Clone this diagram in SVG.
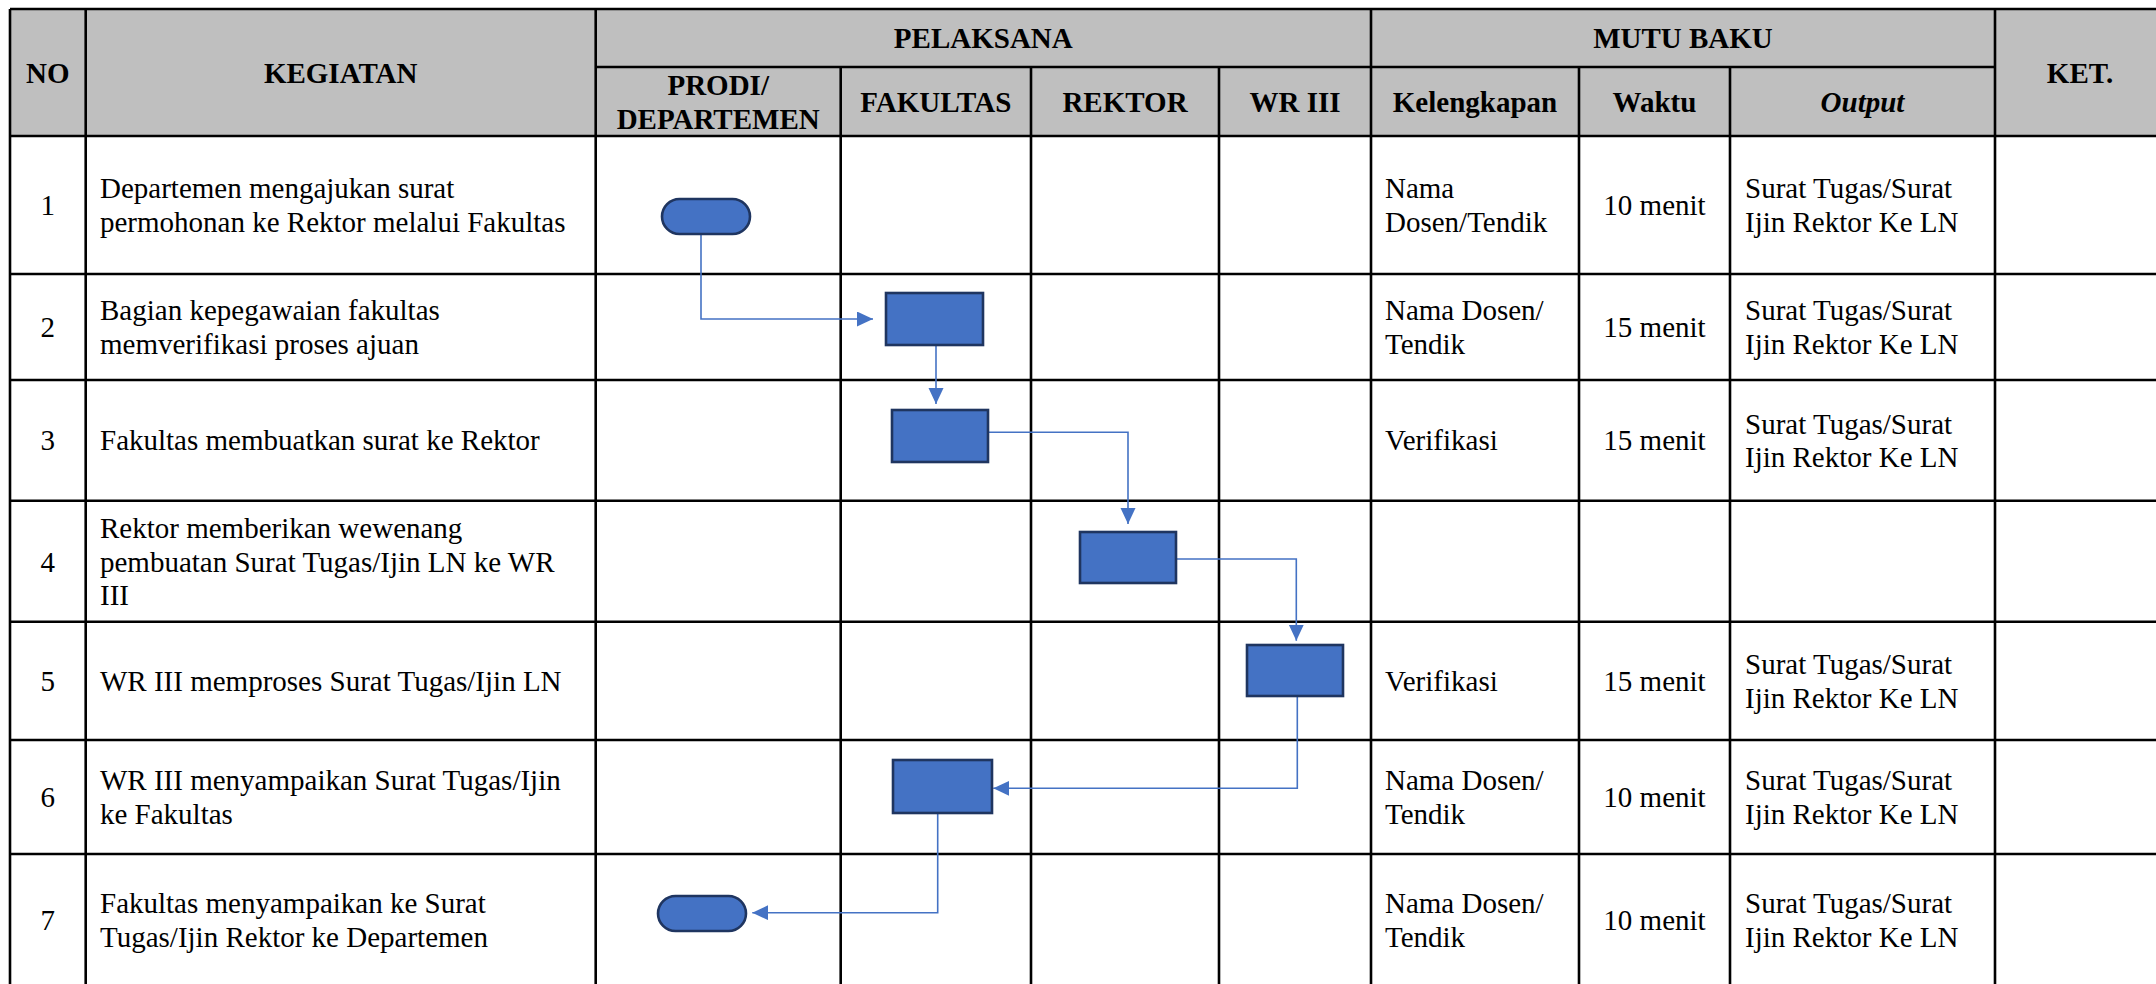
<svg xmlns="http://www.w3.org/2000/svg" width="2156" height="984" viewBox="0 0 2156 984">
<style>
.grid{stroke:#000;stroke-width:2.6;fill:none}
.hdr{fill:#BFBFBF}
text{font-family:"Liberation Serif","Times New Roman",serif;font-size:29px;fill:#000}
.h{font-weight:bold;text-anchor:middle}
.c{text-anchor:middle}
.it{font-style:italic}
.node{fill:#4472C4;stroke:#1F3560;stroke-width:2.6}
.conn{fill:none;stroke:#4472C4;stroke-width:1.6}
</style>
<defs>
<marker id="arr" markerUnits="userSpaceOnUse" markerWidth="17" markerHeight="16" refX="16" refY="7.5" orient="auto">
<path d="M0,0 L16,7.5 L0,15 Z" fill="#4472C4"/>
</marker>
</defs>
<rect width="2156" height="984" fill="#fff"/>
<g id="table">
<rect class="hdr" x="10" y="9" width="2160" height="127"/>
<g class="grid">
<path d="M10,9 H2170 M595.7,67 H1995 M10,136 H2170 M10,274 H2170 M10,380 H2170 M10,500.7 H2170 M10,621.7 H2170 M10,740 H2170 M10,854 H2170 M10,986 H2170"/>
<path d="M10,9 V990 M85.7,9 V990 M595.7,9 V990 M1371,9 V990 M1995,9 V990 M840.7,67 V990 M1031,67 V990 M1219,67 V990 M1579,67 V990 M1730,67 V990"/>
</g>
<g id="header">
<text class="h" x="47.8" y="83">NO</text>
<text class="h" x="340.7" y="83">KEGIATAN</text>
<text class="h" x="983.3" y="48">PELAKSANA</text>
<text class="h" x="1683" y="48">MUTU BAKU</text>
<text class="h" x="2080" y="83">KET.</text>
<text class="h" x="718.2" y="95">PRODI/</text>
<text class="h" x="718.2" y="129">DEPARTEMEN</text>
<text class="h" x="935.8" y="111.5">FAKULTAS</text>
<text class="h" x="1125" y="111.5">REKTOR</text>
<text class="h" x="1295" y="111.5">WR III</text>
<text class="h" x="1475" y="111.5">Kelengkapan</text>
<text class="h" x="1654.5" y="111.5">Waktu</text>
<text class="h it" x="1862.5" y="111.5">Output</text>
</g>
<g id="rows">
<text class="c" x="47.8" y="215">1</text>
<text x="100" y="198.4">Departemen mengajukan surat</text>
<text x="100" y="231.6">permohonan ke Rektor melalui Fakultas</text>
<text x="1385" y="198.4">Nama</text>
<text x="1385" y="231.6">Dosen/Tendik</text>
<text class="c" x="1654.5" y="215">10 menit</text>
<text x="1745" y="198.4">Surat Tugas/Surat</text>
<text x="1745" y="231.6">Ijin Rektor Ke LN</text>

<text class="c" x="47.8" y="337">2</text>
<text x="100" y="320.4">Bagian kepegawaian fakultas</text>
<text x="100" y="353.6">memverifikasi proses ajuan</text>
<text x="1385" y="320.4">Nama Dosen/</text>
<text x="1385" y="353.6">Tendik</text>
<text class="c" x="1654.5" y="337">15 menit</text>
<text x="1745" y="320.4">Surat Tugas/Surat</text>
<text x="1745" y="353.6">Ijin Rektor Ke LN</text>

<text class="c" x="47.8" y="450.3">3</text>
<text x="100" y="450.3">Fakultas membuatkan surat ke Rektor</text>
<text x="1385" y="450.3">Verifikasi</text>
<text class="c" x="1654.5" y="450.3">15 menit</text>
<text x="1745" y="433.7">Surat Tugas/Surat</text>
<text x="1745" y="467">Ijin Rektor Ke LN</text>

<text class="c" x="47.8" y="571.5">4</text>
<text x="100" y="538.2">Rektor memberikan wewenang</text>
<text x="100" y="571.5">pembuatan Surat Tugas/Ijin LN ke WR</text>
<text x="100" y="604.8">III</text>

<text class="c" x="47.8" y="691">5</text>
<text x="100" y="691">WR III memproses Surat Tugas/Ijin LN</text>
<text x="1385" y="691">Verifikasi</text>
<text class="c" x="1654.5" y="691">15 menit</text>
<text x="1745" y="674.4">Surat Tugas/Surat</text>
<text x="1745" y="707.6">Ijin Rektor Ke LN</text>

<text class="c" x="47.8" y="807">6</text>
<text x="100" y="790.4">WR III menyampaikan Surat Tugas/Ijin</text>
<text x="100" y="823.6">ke Fakultas</text>
<text x="1385" y="790.4">Nama Dosen/</text>
<text x="1385" y="823.6">Tendik</text>
<text class="c" x="1654.5" y="807">10 menit</text>
<text x="1745" y="790.4">Surat Tugas/Surat</text>
<text x="1745" y="823.6">Ijin Rektor Ke LN</text>

<text class="c" x="47.8" y="930">7</text>
<text x="100" y="913.4">Fakultas menyampaikan ke Surat</text>
<text x="100" y="946.6">Tugas/Ijin Rektor ke Departemen</text>
<text x="1385" y="913.4">Nama Dosen/</text>
<text x="1385" y="946.6">Tendik</text>
<text class="c" x="1654.5" y="930">10 menit</text>
<text x="1745" y="913.4">Surat Tugas/Surat</text>
<text x="1745" y="946.6">Ijin Rektor Ke LN</text>
</g>
</g>
<g id="connectors">
<path class="conn" d="M701,235 V319 H873" marker-end="url(#arr)"/>
<path class="conn" d="M936,345 V404" marker-end="url(#arr)"/>
<path class="conn" d="M988,432.3 H1128 V524" marker-end="url(#arr)"/>
<path class="conn" d="M1176,559 H1296.3 V640.7" marker-end="url(#arr)"/>
<path class="conn" d="M1297.3,696 V788.3 H993.3" marker-end="url(#arr)"/>
<path class="conn" d="M937.7,813 V912.7 H752.3" marker-end="url(#arr)"/>
</g>
<g id="n1"><rect class="node" x="662" y="199" width="88" height="35" rx="17.5"/></g>
<g id="n2"><rect class="node" x="886" y="293" width="97" height="52"/></g>
<g id="n3"><rect class="node" x="892" y="410" width="96" height="52"/></g>
<g id="n4"><rect class="node" x="1080" y="532" width="96" height="51"/></g>
<g id="n5"><rect class="node" x="1247" y="645" width="96" height="51"/></g>
<g id="n6"><rect class="node" x="893" y="760" width="99" height="53"/></g>
<g id="n7"><rect class="node" x="658" y="896" width="88" height="35" rx="17.5"/></g>
</svg>
